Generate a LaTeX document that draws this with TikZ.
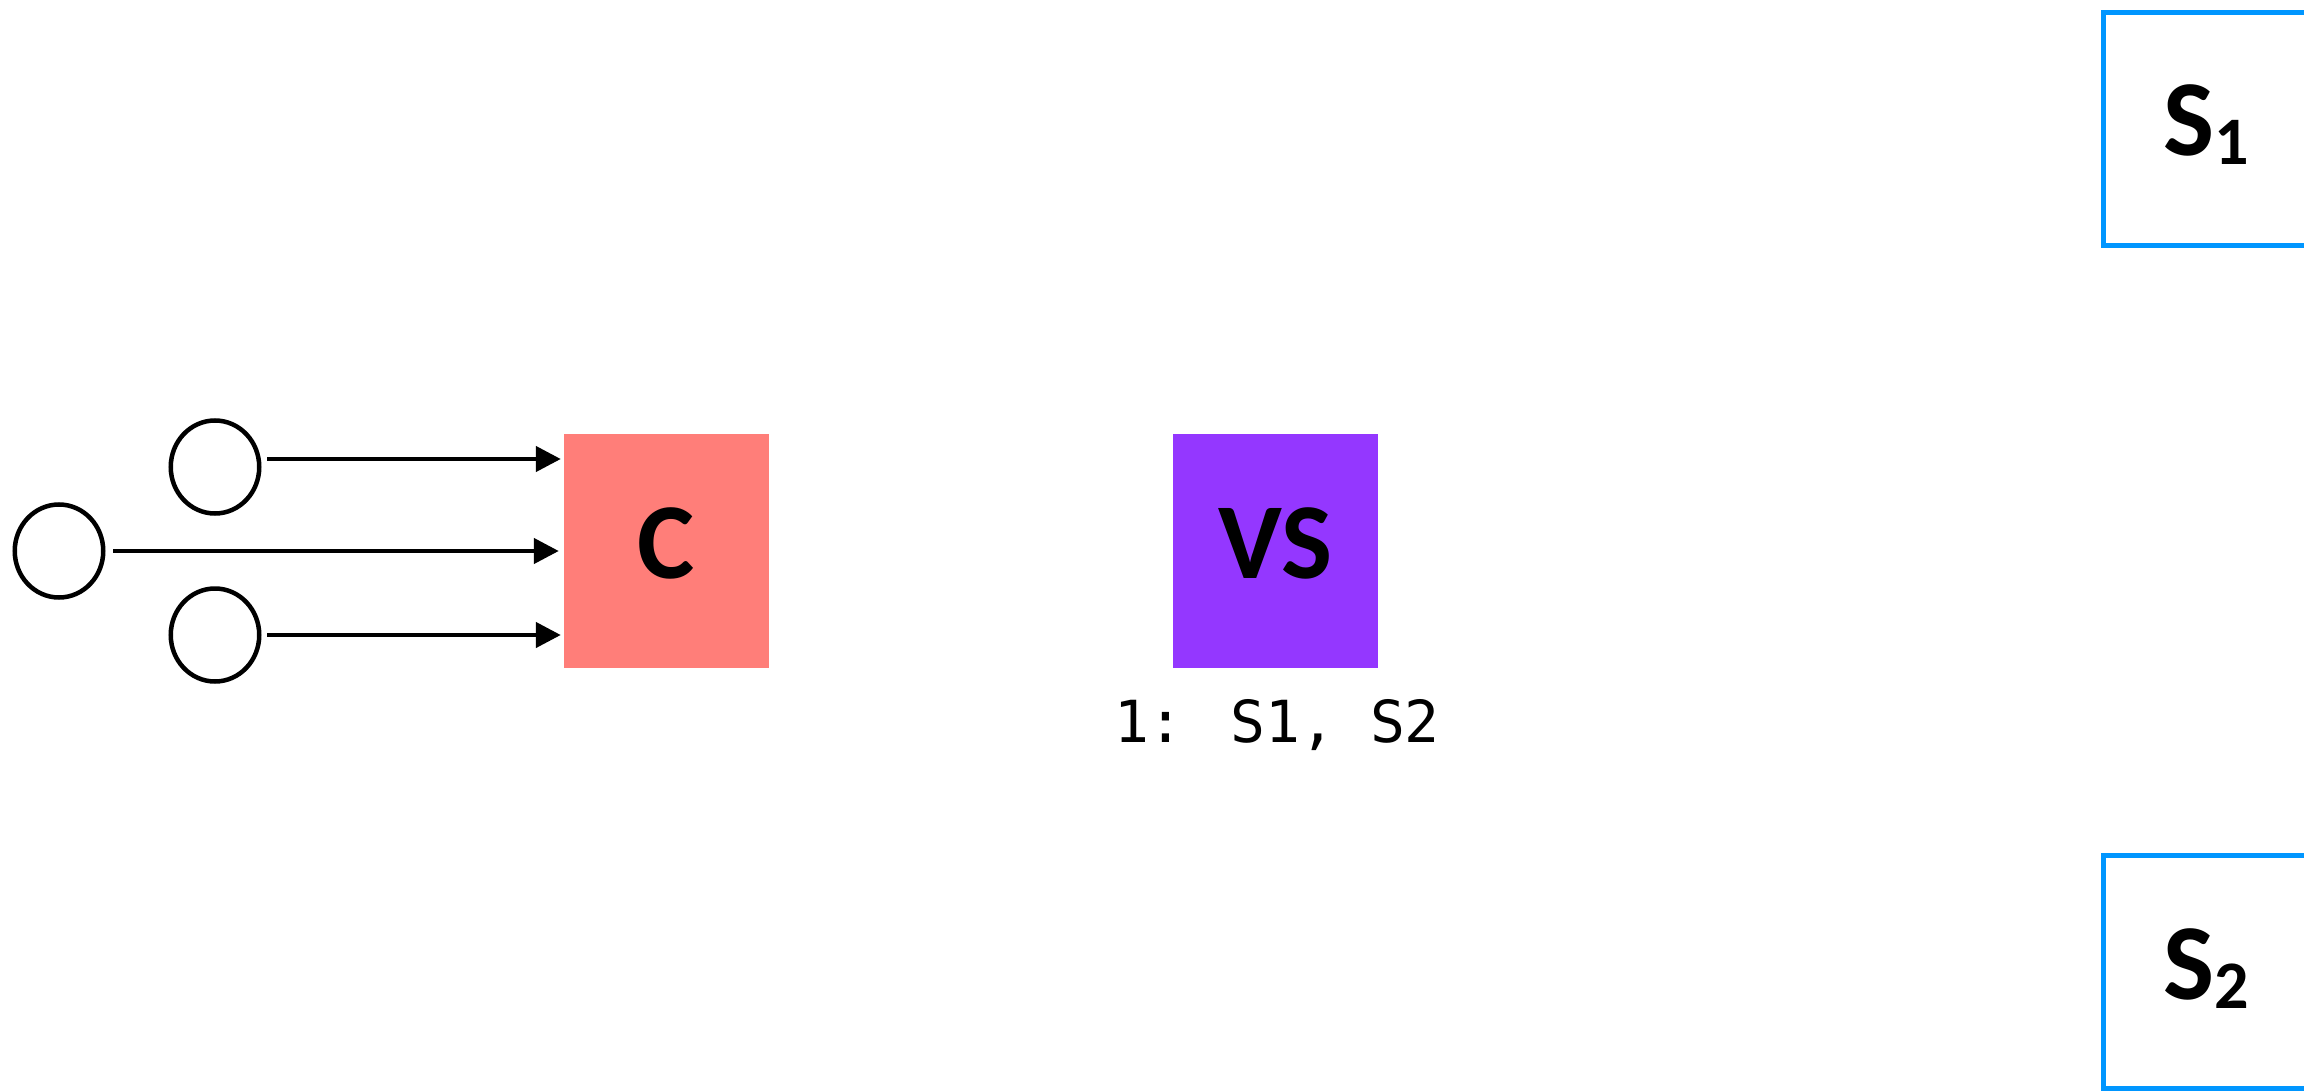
\documentclass[tikz,border=0pt]{standalone}
\usepackage{fontspec}
\setmainfont{Carlito}
\newfontfamily\monofont{DejaVu Sans Mono}
\usetikzlibrary{arrows.meta,shapes.geometric}
\definecolor{salmon}{HTML}{FF7E79}
\definecolor{grape}{HTML}{9437FF}
\definecolor{aqua}{HTML}{0096FF}
\begin{document}
\begin{tikzpicture}[x=1pt,y=-1pt,
  src/.style={draw, line width=4.5pt, ellipse, minimum width=88.5pt,
    minimum height=93pt, inner sep=0pt},
  blockbox/.style={rectangle, inner sep=0pt, minimum width=205pt,
    minimum height=234pt, font=\bfseries\fontsize{108}{110}\selectfont,
    text height=68pt, text depth=14pt},
  servbox/.style={blockbox, draw=aqua, line width=5pt, minimum height=233pt},
  arr/.style={line width=4.5pt, -{Triangle[length=25pt,width=25pt]}},
  sub/.style={}]
  \useasboundingbox (0,0) rectangle (2304,1091);

  % input sources
  \node[src] (e1) at (215,467) {};
  \node[src] (e2) at (59,551) {};
  \node[src] (e3) at (215,635) {};

  % collector and virtual switch
  \node[blockbox, fill=salmon] (c) at (666.5,551) {C};
  \node[blockbox, fill=grape] (vs) at (1275.5,551) {VS};
  \node[font=\monofont\fontsize{58}{60}\selectfont, anchor=base, inner sep=0pt]
    (lbl) at (1277,742) {1: S1, S2};

  % servers
  \node[servbox] (s1) at (2206,129)
    {S\raisebox{-9pt}{\fontsize{68}{70}\selectfont 1}};
  \node[servbox] (s2) at (2206,972)
    {S\raisebox{-9pt}{\fontsize{68}{70}\selectfont 2}};

  % connectors into the collector
  \coordinate (a1) at ([xshift=5.75pt,yshift=8pt]e1.east);
  \coordinate (a2) at ([xshift=7.75pt]e2.east);
  \coordinate (a3) at ([xshift=5.75pt]e3.east);
  \draw[arr, shorten >=3pt] (a1) -- (a1 -| c.west);
  \draw[arr, shorten >=5pt] (a2) -- (a2 -| c.west);
  \draw[arr, shorten >=3pt] (a3) -- (a3 -| c.west);
\end{tikzpicture}
\end{document}
